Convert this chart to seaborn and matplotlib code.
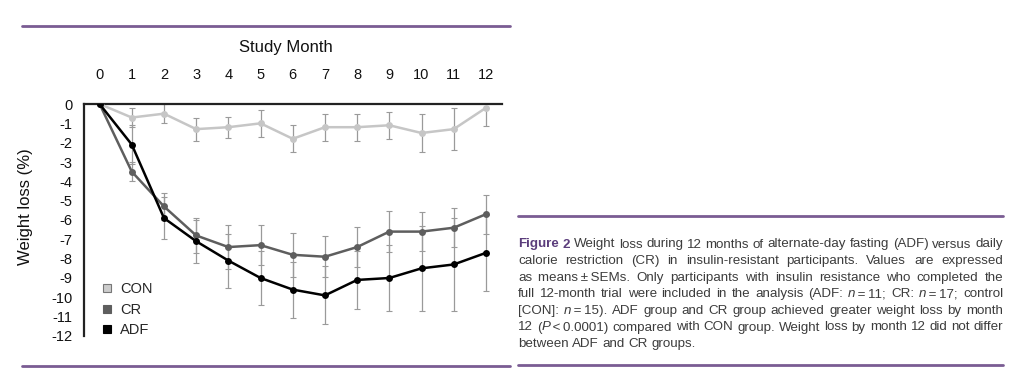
import re
import matplotlib.pyplot as plt
from matplotlib.lines import Line2D
import seaborn as sns
import pandas as pd

# values (weight loss %, mean and SEM per month)
months = list(range(13))
con = [0, -0.7, -0.5, -1.3, -1.2, -1.0, -1.8, -1.2, -1.2, -1.1, -1.5, -1.3, -0.2]
con_sem = [0, 0.5, 0.5, 0.6, 0.55, 0.7, 0.7, 0.7, 0.7, 0.7, 1.0, 1.1, 0.95]
cr = [0, -3.5, -5.3, -6.8, -7.4, -7.3, -7.8, -7.9, -7.4, -6.6, -6.6, -6.4, -5.7]
cr_sem = [0, 0.5, 0.7, 0.9, 1.15, 1.05, 1.15, 1.05, 1.05, 1.05, 1.0, 1.0, 1.0]
adf = [0, -2.1, -5.9, -7.1, -8.1, -9.0, -9.6, -9.9, -9.1, -9.0, -8.5, -8.3, -7.7]
adf_sem = [0, 1.0, 1.1, 1.1, 1.4, 1.4, 1.45, 1.5, 1.5, 1.7, 2.2, 2.4, 1.95]

groups = ['CON', 'CR', 'ADF']
colors = {'CON': '#c6c6c6', 'CR': '#5e5e5e', 'ADF': '#000000'}
yticks = list(range(0, -13, -1))

caption = [
    "#Figure# #2# Weight loss during 12 months of alternate-day fasting (ADF) versus daily",
    "calorie restriction (CR) in insulin-resistant participants. Values are expressed",
    "as means\u2009±\u2009SEMs. Only participants with insulin resistance who completed the",
    "full 12-month trial were included in the analysis (ADF: _n_\u2009=\u200911; CR: _n_\u2009=\u200917; control",
    "[CON]: _n_\u2009=\u200915). ADF group and CR group achieved greater weight loss by month",
    "12 (_P_\u2009<\u20090.0001) compared with CON group. Weight loss by month 12 did not differ",
    "between ADF and CR groups.",
]

df = pd.concat([
    pd.DataFrame({'group': 'CON', 'month': months, 'loss': con, 'sem': con_sem}),
    pd.DataFrame({'group': 'CR', 'month': months, 'loss': cr, 'sem': cr_sem}),
    pd.DataFrame({'group': 'ADF', 'month': months, 'loss': adf, 'sem': adf_sem}),
])

sns.set_theme(style="white")
plt.rcParams['font.family'] = ['Liberation Sans', 'DejaVu Sans']

W, H = 1024, 392
fig = plt.figure(figsize=(W / 100, H / 100), dpi=100)
ax = fig.add_axes([83.5 / W, 1 - 336 / H, 418.5 / W, 232 / H])

# error bars
for g in groups:
    d = df[df['group'] == g]
    ax.errorbar(d['month'], d['loss'], yerr=d['sem'], fmt='none', ecolor='#9a9a9a',
                elinewidth=0.9, capsize=2, capthick=0.8, zorder=2)

sns.lineplot(data=df, x='month', y='loss', hue='group', hue_order=groups,
             palette=colors, marker='o', markersize=5, markeredgewidth=0,
             linewidth=1.8, errorbar=None, legend=False, ax=ax, zorder=3)

ax.set_xlim(-0.5, 12.5)
ax.set_ylim(-12, 0)
ax.xaxis.tick_top()
ax.xaxis.set_label_position('top')
ax.set_xticks(months)
ax.set_yticks(yticks)
ax.set_yticklabels([str(v) for v in yticks])
ax.tick_params(axis='both', length=0, labelsize=10.5, colors='#111111')
ax.tick_params(axis='x', pad=16)
ax.tick_params(axis='y', pad=8)
ax.set_xlabel('Study Month', fontsize=12, color='#111111')
ax.set_ylabel('Weight loss (%)', fontsize=12, color='#111111')
ax.xaxis.set_label_coords(0.484, 1.224)
ax.yaxis.set_label_coords(-0.121, 0.556)
for s in ['right', 'bottom']:
    ax.spines[s].set_visible(False)
for s in ['top', 'left']:
    ax.spines[s].set_color('#222222')
    ax.spines[s].set_linewidth(1.6)

handles = [Line2D([], [], ls='none', marker='s', markersize=6,
                  markerfacecolor=colors[g] if g != 'CON' else '#cccccc',
                  markeredgecolor='#777777' if g == 'CON' else colors[g],
                  markeredgewidth=0.8, label=g) for g in groups]
ax.legend(handles=handles, loc='lower left', bbox_to_anchor=(0.018, -0.05),
          frameon=False, fontsize=10.5, handletextpad=0.5, labelspacing=0.45,
          handlelength=0.8, borderpad=0.2)

# purple rules
purple = '#7a5c93'
for x0, x1, y in [(22, 510, 26), (22, 510, 366), (518, 1003, 216), (518, 1003, 365)]:
    fig.add_artist(Line2D([x0 / W, x1 / W], [1 - y / H, 1 - y / H],
                          color=purple, lw=2.0, transform=fig.transFigure))

# justified caption
fig.canvas.draw()
renderer = fig.canvas.get_renderer()
cap_size = 9.6
x_left, x_right = 518, 1003
y0, dy = 247.5, 16.6


def make_piece(s):
    kw = dict(fontsize=cap_size, color='#3c3c3c', va='baseline', ha='left')
    if s.startswith('#'):
        kw.update(color='#5b3d7c', fontweight='bold')
        s = s.strip('#')
    elif s.startswith('_'):
        kw.update(style='italic')
        s = s.strip('_')
    t = fig.text(0, 0, s, transform=None, **kw)
    w = t.get_window_extent(renderer).width
    return t, w


for i, line in enumerate(caption):
    words = []
    for word in line.split(' '):
        parts = [p for p in re.split(r'(_[^_]+_|#[^#]+#)', word) if p]
        pieces = [make_piece(p) for p in parts]
        words.append(pieces)
    widths = [sum(w for _, w in ws) for ws in words]
    space = make_piece(' ')
    space[0].remove()
    if i < len(caption) - 1:
        gap = (x_right - x_left - sum(widths)) / (len(words) - 1)
    else:
        gap = space[1]
    x = x_left
    y = H - (y0 + dy * i)
    for ws, wsum in zip(words, widths):
        xx = x
        for t, w in ws:
            t.set_position((xx, y))
            xx += w
        x += wsum + gap

fig.savefig('out.png', dpi=100)
